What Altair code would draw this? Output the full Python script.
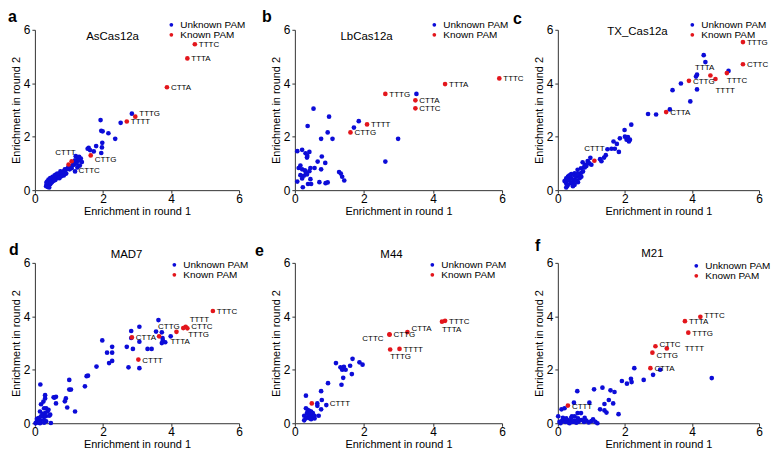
import altair as alt
import pandas as pd

BLUE = "#0c0cd8"
RED = "#e3161c"
FONT = "Liberation Sans"

# ---------------- data ----------------
# a: AsCas12a
a_unknown_x = [1.93, 1.95, 1.99, 2.16, 2.36, 2.52, 2.85, 1.98, 1.97, 1.95, 1.80, 1.58, 1.62, 1.73, 1.55,
               1.20, 1.26, 1.30, 1.35, 1.28, 1.22, 1.15, 1.10, 1.05, 1.18, 1.25, 1.32, 1.38, 0.95, 0.90,
               0.85, 0.80, 0.75, 0.70, 0.65, 0.60, 0.55, 0.52, 0.48, 0.45, 0.42, 0.38, 0.35, 0.33, 0.40,
               0.45, 0.50, 0.55, 0.60, 0.65, 0.70, 0.62, 0.58, 0.52, 0.45, 0.40, 0.36, 0.34, 0.75, 0.80,
               0.88, 0.98, 1.02, 1.08, 0.92, 0.72, 0.85, 1.12, 1.18, 1.00, 0.78, 0.66, 0.56, 0.47, 0.38, 0.42]
a_unknown_y = [2.62, 2.22, 2.20, 2.13, 1.92, 2.52, 2.86, 1.77, 1.60, 1.39, 1.65, 1.58, 1.50, 1.45, 1.55,
               1.27, 1.22, 1.25, 1.18, 1.10, 1.00, 0.95, 0.92, 0.88, 0.70, 0.85, 0.92, 1.05, 0.80, 0.75,
               0.70, 0.68, 0.62, 0.58, 0.55, 0.50, 0.48, 0.42, 0.40, 0.35, 0.30, 0.25, 0.20, 0.15, 0.18,
               0.22, 0.30, 0.35, 0.38, 0.45, 0.50, 0.58, 0.55, 0.50, 0.45, 0.40, 0.32, 0.28, 0.70, 0.60,
               0.78, 0.85, 0.78, 0.82, 0.62, 0.45, 0.55, 1.05, 1.12, 0.90, 0.52, 0.62, 0.40, 0.28, 0.12, 0.10]
a_known_pam = ["TTTC", "TTTA", "CTTA", "TTTG", "TTTT", "CTTG", "CTTT", "CTTC"]
a_known_x = [4.70, 4.48, 3.88, 2.95, 2.70, 1.64, 1.08, 0.99]
a_known_y = [5.46, 4.93, 3.85, 2.75, 2.57, 1.30, 1.08, 0.96]
a_label_side = ["R", "R", "R", "RU", "R", "RD", "UL", "DR2"]

# b: LbCas12a
b_unknown_x = [3.52, 0.54, 0.99, 0.37, 1.85, 1.71, 0.95, 0.76, 1.09, 2.99, 2.62, 0.07, 0.21, 0.31, 0.42,
               0.35, 0.78, 0.88, 0.66, 0.16, 0.11, 0.21, 0.29, 0.45, 0.57, 0.76, 0.32, 0.42, 0.16, 0.26,
               0.35, 0.07, 0.21, 0.45, 0.23, 0.38, 0.47, 0.71, 0.89, 0.95, 1.28, 1.33, 1.37, 1.43, 0.36]
b_unknown_y = [3.60, 3.05, 2.75, 2.40, 2.58, 2.34, 2.16, 1.92, 1.92, 1.92, 1.07, 1.46, 1.51, 1.38, 1.43,
               1.22, 1.26, 1.02, 1.07, 0.92, 0.83, 0.78, 0.74, 0.83, 0.83, 0.78, 0.66, 0.71, 0.56, 0.54,
               0.59, 0.32, 0.44, 0.41, 0.11, 0.23, 0.23, 0.30, 0.26, 0.29, 0.68, 0.62, 0.50, 0.36, 1.28]
b_known_pam = ["TTTC", "TTTA", "TTTG", "CTTA", "CTTC", "TTTT", "CTTG"]
b_known_x = [5.92, 4.35, 2.62, 3.49, 3.49, 2.09, 1.61]
b_known_y = [4.18, 3.97, 3.60, 3.36, 3.06, 2.46, 2.16]
b_label_side = ["R", "R", "R", "R", "R", "R", "R"]

# c: TX_Cas12a
c_unknown_x = [4.35, 4.40, 5.09, 4.15, 4.12, 3.67, 3.42, 4.15, 3.95, 3.34, 2.69, 2.93,
               2.19, 1.99, 1.85, 2.00, 2.09, 2.15, 2.05, 2.12, 1.66, 1.76, 1.82, 1.48, 1.60, 1.70,
               1.43, 1.38, 1.26, 1.30, 0.97, 0.89, 0.94, 0.74, 0.79, 0.69, 0.59, 0.50, 0.40, 0.32,
               0.25, 0.20, 0.25, 0.28, 0.30, 0.40, 0.45, 0.50, 0.55, 0.60, 0.65, 0.70, 0.75, 0.80,
               0.85, 0.35, 0.40, 0.50, 0.55, 0.60, 0.30, 0.25, 0.45, 0.65, 0.70, 0.35, 0.50, 0.58,
               1.00, 0.90, 0.82, 0.28]
c_unknown_y = [5.05, 4.79, 4.46, 4.32, 4.25, 3.99, 3.74, 3.77, 3.32, 3.02, 2.85, 2.83,
               2.45, 2.25, 1.94, 2.00, 1.99, 1.89, 1.89, 1.82, 1.82, 1.73, 1.43, 1.53, 1.55, 1.55,
               1.31, 1.22, 1.16, 1.08, 1.21, 1.09, 1.00, 1.04, 0.88, 0.82, 0.76, 0.63, 0.60, 0.52,
               0.44, 0.34, 0.25, 0.16, 0.50, 0.45, 0.30, 0.40, 0.50, 0.55, 0.60, 0.65, 0.70, 0.85,
               0.90, 0.35, 0.25, 0.20, 0.35, 0.30, 0.20, 0.10, 0.15, 0.45, 0.50, 0.55, 0.55, 0.60,
               0.95, 1.05, 0.95, 0.38]
c_known_pam = ["TTTG", "CTTC", "TTTA", "TTTC", "TTTT", "CTTG", "CTTA", "CTTT"]
c_known_x = [5.52, 5.52, 4.55, 5.04, 4.70, 3.91, 3.23, 1.09]
c_known_y = [5.54, 4.71, 4.29, 4.38, 4.16, 4.09, 2.92, 1.10]
c_label_side = ["R", "R", "UL", "DR", "DR3", "R", "R", "U"]

# d: MAD7
d_unknown_x = [3.63, 3.07, 2.83, 3.56, 3.73, 3.99, 2.83, 3.75, 3.76, 3.83, 3.73, 3.07, 1.98, 2.70,
               2.88, 3.31, 3.43, 2.12, 2.27, 2.27, 2.27, 2.18, 1.81, 2.75, 3.07, 1.52, 1.56, 1.47,
               1.01, 1.01, 1.06, 0.91, 0.88, 0.95, 1.18, 0.62, 0.55, 0.62, 0.16, 0.30, 0.30,
               0.18, 0.25, 0.33, 0.15, 0.40, 0.30, 0.45, 0.23, 0.11, 0.06, 0.15, 0.33, 0.47, 0.02,
               0.27, 0.37, 0.22, 0.32, 0.18, 0.42, 0.06, 0.16, 0.27, 0.03, 0.13, 0.27, 0.58]
d_unknown_y = [3.86, 3.61, 3.45, 3.43, 3.40, 3.25, 3.19, 3.19, 3.10, 3.03, 3.00, 3.05, 3.10, 2.86,
               2.78, 2.78, 2.78, 2.64, 2.64, 2.86, 2.33, 2.25, 2.12, 2.09, 2.06, 1.76, 1.78, 1.38,
               1.62, 1.26, 1.26, 0.93, 0.82, 0.59, 0.44, 0.99, 0.97, 0.74, 1.45, 1.05, 0.93,
               0.71, 0.81, 0.56, 0.44, 0.50, 0.38, 0.32, 0.26, 0.19, 0.07, 0.00, 0.07, 0.01, 0.00,
               0.56, 0.44, 0.35, 0.26, 0.26, 0.28, 0.16, 0.11, 0.12, 0.01, 0.02, 0.02, 0.96]
d_known_pam = ["TTTC", "TTTT", "CTTC", "TTTG", "TTTA", "CTTG", "CTTA", "CTTT"]
d_known_x = [5.23, 4.43, 4.48, 4.36, 4.16, 3.65, 2.85, 3.04]
d_known_y = [4.20, 3.61, 3.55, 3.56, 3.42, 3.25, 3.21, 2.38]
d_label_side = ["R", "RU2", "R0", "RD2", "DL", "UR", "R", "R"]

# e: M44
e_unknown_x = [1.19, 1.67, 1.87, 1.96, 1.32, 1.42, 1.37, 1.47, 1.60, 1.65, 1.40, 1.35, 0.96, 0.76,
               0.32, 0.78, 0.65, 0.65, 0.91, 0.76, 0.69, 0.57, 0.32, 0.37, 0.42, 0.47, 0.35, 0.45,
               0.52, 0.27, 0.39, 0.49, 0.57, 0.32, 0.42, 0.27, 0.47]
e_unknown_y = [2.25, 2.41, 2.28, 2.19, 2.09, 2.11, 2.00, 2.00, 2.15, 1.84, 1.70, 1.44, 1.50, 1.20,
               1.03, 0.87, 0.74, 0.65, 0.68, 0.52, 0.28, 0.18, 0.56, 0.50, 0.46, 0.44, 0.38, 0.35,
               0.38, 0.28, 0.28, 0.26, 0.28, 0.19, 0.19, 0.11, 0.15]
e_known_pam = ["TTTC", "TTTA", "CTTA", "CTTG", "CTTC", "TTTT", "TTTG", "CTTT"]
e_known_x = [4.35, 4.26, 3.26, 2.74, 2.74, 3.03, 2.76, 0.49]
e_known_y = [3.83, 3.80, 3.41, 3.33, 3.31, 2.78, 2.76, 0.74]
e_label_side = ["R", "DR", "RU", "R", "L", "R", "DR", "R2"]

# f: M21
f_unknown_x = [3.05, 2.84, 2.28, 2.56, 2.18, 2.20, 2.06, 1.91, 1.57, 1.69, 1.33, 1.08, 1.52, 1.65,
               1.39, 1.81, 1.26, 1.39, 1.45, 0.94, 0.58, 0.48, 0.11, 0.20, 0.59, 0.69, 0.42, 0.50,
               0.01, 4.59, 0.05, 0.12, 0.18, 0.22, 0.28, 0.32, 0.38, 0.45, 0.50, 0.55, 0.62, 0.70,
               0.78, 0.85, 0.92, 1.00, 1.05, 1.12, 1.18, 0.15, 0.25, 0.40, 0.60, 0.80, 0.08, 0.35]
f_unknown_y = [2.00, 1.81, 2.06, 1.62, 1.66, 1.54, 1.48, 1.58, 1.23, 1.17, 1.33, 1.27, 0.87, 0.74,
               0.72, 0.34, 0.52, 0.48, 0.40, 0.77, 1.20, 0.77, 0.52, 0.56, 0.38, 0.38, 0.26, 0.26,
               0.26, 1.69, 0.05, 0.08, 0.10, 0.05, 0.12, 0.03, 0.08, 0.05, 0.10, 0.02, 0.06, 0.12,
               0.05, 0.10, 0.03, 0.08, 0.15, 0.05, 0.00, 0.20, 0.18, 0.20, 0.18, 0.20, 0.00, 0.00]
f_known_pam = ["TTTC", "TTTA", "TTTG", "CTTC", "TTTT", "CTTG", "CTTA", "CTTT"]
f_known_x = [4.25, 3.79, 3.89, 2.91, 3.25, 2.82, 2.76, 0.30]
f_known_y = [3.98, 3.82, 3.39, 2.88, 2.80, 2.64, 2.06, 0.66]
f_label_side = ["R0", "R", "R", "R0", "R2", "RD1", "R", "R"]

axis_ticks = [0, 2, 4, 6]
legend_order = ["Unknown PAM", "Known PAM"]

# --------------- styles / layout ---------------
LABEL_STYLE = {  # align, dx, dy
    "R": ("left", 4, 1),
    "R0": ("left", 4, -1),
    "RD1": ("left", 4, 3),
    "RU": ("left", 4, -3),
    "RU2": ("left", 4, -7),
    "RD": ("left", 4, 5),
    "RD2": ("left", 5, 7),
    "R2": ("left", 18, 1),
    "UL": ("right", 4, -8),
    "UR": ("left", -1, -9),
    "DR": ("left", 0, 8),
    "DL": ("left", -6, 10),
    "DR3": ("left", 0, 12),
    "DR2": ("left", 10, 7),
    "U": ("center", 0, -12),
    "L": ("right", -6, 4),
}

COL_W = [205, 208, 202]
ROW_H = 161


def make_panel(name, letter, ux, uy, pams, kx, ky, sides, width, letter_pos, name_pos, legend_pos):
    pts = pd.DataFrame({
        "x": list(ux) + list(kx),
        "y": list(uy) + list(ky),
        "type": ["Unknown PAM"] * len(ux) + ["Known PAM"] * len(kx),
    })
    lab = pd.DataFrame({"x": kx, "y": ky, "pam": pams, "side": sides})

    xenc = alt.X("x:Q", scale=alt.Scale(domain=[0, 6], nice=False),
                 axis=alt.Axis(values=axis_ticks, title="Enrichment in round 1", grid=False,
                               tickSize=3, labelPadding=0, titlePadding=1, labelFlush=False,
                               format="d"))
    yenc = alt.Y("y:Q", scale=alt.Scale(domain=[0, 6], nice=False),
                 axis=alt.Axis(values=axis_ticks, title="Enrichment in round 2", grid=False,
                               tickSize=3, labelPadding=2, titlePadding=2, labelFlush=False,
                               format="d"))
    color = alt.Color("type:N",
                      scale=alt.Scale(domain=legend_order, range=[BLUE, RED]),
                      legend=alt.Legend(title=None, orient="none",
                                        legendX=legend_pos[0], legendY=legend_pos[1],
                                        symbolType="circle", symbolSize=14, symbolStrokeWidth=0,
                                        labelFontSize=10, labelFont=FONT, labelColor="#000",
                                        labelOffset=4, rowPadding=0, padding=0))
    layers = [alt.Chart(pts).mark_circle(size=22, opacity=1).encode(x=xenc, y=yenc, color=color)]
    for key, (align, dx, dy) in LABEL_STYLE.items():
        sub = lab[lab["side"] == key]
        if len(sub) == 0:
            continue
        layers.append(
            alt.Chart(sub).mark_text(align=align, baseline="middle", dx=dx, dy=dy,
                                     fontSize=8, font=FONT, color="#000")
            .encode(x=xenc, y=yenc, text="pam:N"))
    layers.append(
        alt.Chart(pd.DataFrame({"t": [letter]})).mark_text(
            align="left", baseline="alphabetic", fontSize=16, fontWeight="bold",
            font=FONT, color="#000")
        .encode(x=alt.value(letter_pos[0]), y=alt.value(letter_pos[1]), text="t:N"))
    layers.append(
        alt.Chart(pd.DataFrame({"t": [name]})).mark_text(
            align="center", baseline="alphabetic", fontSize=11.5, font=FONT, color="#000")
        .encode(x=alt.value(name_pos[0]), y=alt.value(name_pos[1]), text="t:N"))
    return alt.layer(*layers).properties(width=width, height=ROW_H)


panels = [
    make_panel("AsCas12a", "a", a_unknown_x, a_unknown_y, a_known_pam, a_known_x, a_known_y,
               a_label_side, COL_W[0], (-27, -8), (78, 10), (132, -10)),
    make_panel("LbCas12a", "b", b_unknown_x, b_unknown_y, b_known_pam, b_known_x, b_known_y,
               b_label_side, COL_W[1], (-33, -8), (72, 10), (135, -10)),
    make_panel("TX_Cas12a", "c", c_unknown_x, c_unknown_y, c_known_pam, c_known_x, c_known_y,
               c_label_side, COL_W[2], (-45, -6), (80, 5), (130, -10)),
    make_panel("MAD7", "d", d_unknown_x, d_unknown_y, d_known_pam, d_known_x, d_known_y,
               d_label_side, COL_W[0], (-26, -8), (92, -5), (135, -3)),
    make_panel("M44", "e", e_unknown_x, e_unknown_y, e_known_pam, e_known_x, e_known_y,
               e_label_side, COL_W[1], (-40, -7), (97, -5), (133, -3)),
    make_panel("M21", "f", f_unknown_x, f_unknown_y, f_known_pam, f_known_x, f_known_y,
               f_label_side, COL_W[2], (-23, -12), (95, -6), (134, -2)),
]

chart = (
    alt.concat(*panels, columns=3, spacing={"row": 73, "column": 56},
               bounds="flush", align="each")
    .resolve_scale(color="independent")
    .properties(padding=0)
    .configure(font=FONT)
    .configure_view(stroke=None)
    .configure_axis(domainColor="#333", tickColor="#333", labelColor="#000", titleColor="#000",
                    labelFontSize=12, titleFontSize=11, titleFontWeight="normal",
                    labelFont=FONT, titleFont=FONT, domainWidth=1, tickWidth=1)
)

chart.save("out.html", embed_options={"renderer": "svg", "actions": False})
